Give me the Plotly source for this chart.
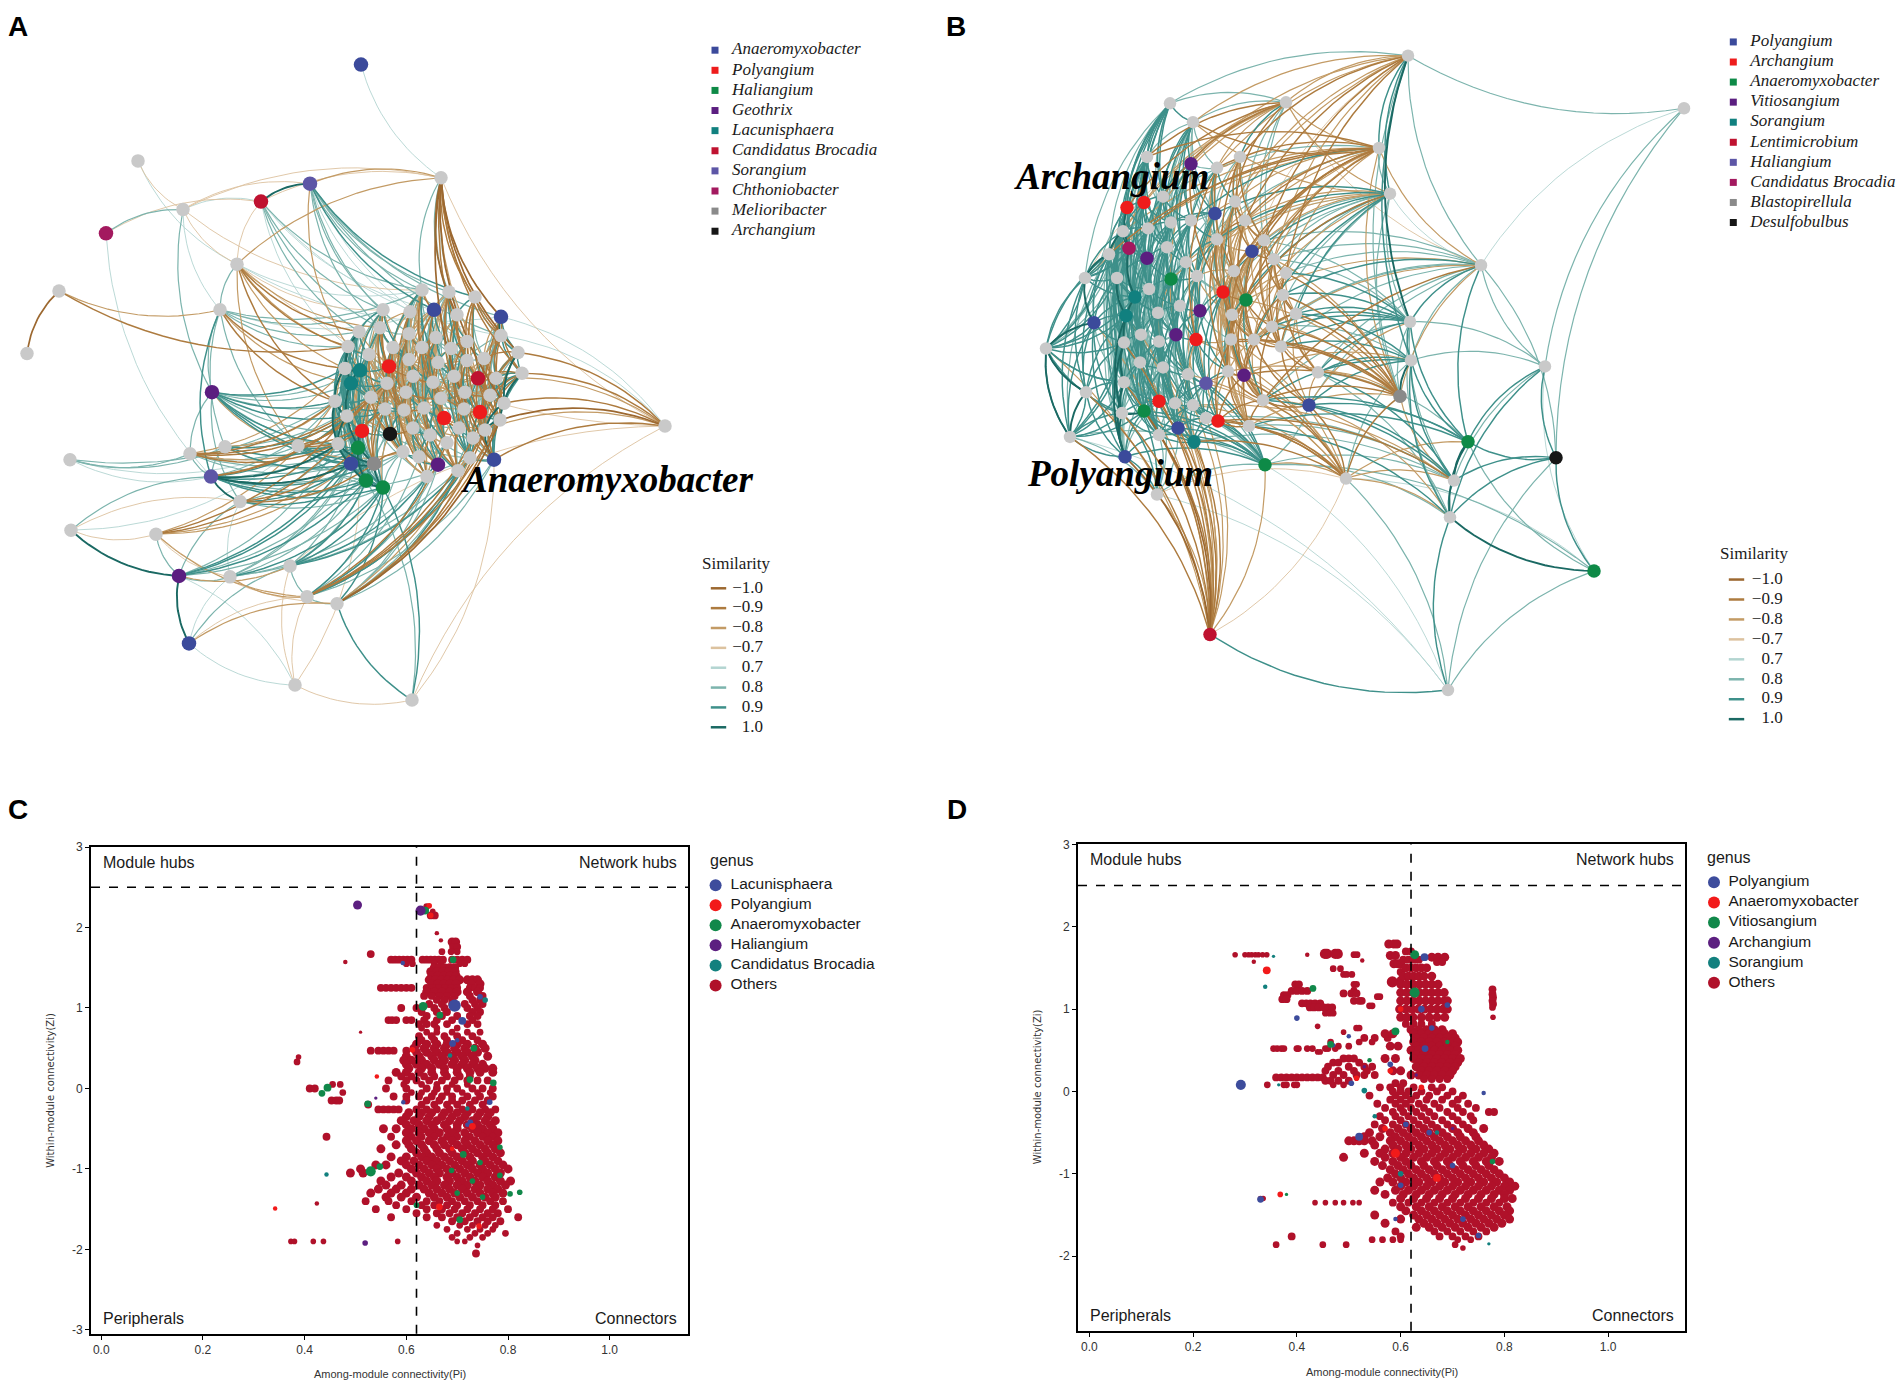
import plotly.graph_objects as go

W, H = 1902, 1390


def px(v):
    return v / W


def py(v):
    return 1 - v / H


# ---------------- shared styling ----------------
PAL = ["#3B4A9B", "#EE1C1C", "#0E8A47", "#5B1E80", "#11807F",
       "#BF1230", "#5D56A6", "#A3195F", "#8A8A8A", "#161616"]
NODE_OTHER = "#C9C9C9"

SIM_KEYS = [-10, -9, -8, -7, 7, 8, 9, 10]
SIM_LABELS = ["\u22121.0", "\u22120.9", "\u22120.8", "\u22120.7", "0.7", "0.8", "0.9", "1.0"]
SIM_COLORS = ["#9C6830", "#AD7B3F", "#C39B65", "#DCC29F", "#B3D5D1", "#7CB4AD", "#3E908A", "#1A6963"]
SIM_WIDTHS = [1.7, 1.45, 1.2, 0.9, 0.9, 1.2, 1.45, 1.9]

# ---------------- Panel A : network ----------------
A_GENERA = ["Anaeromyxobacter", "Polyangium", "Haliangium", "Geothrix", "Lacunisphaera",
            "Candidatus Brocadia", "Sorangium", "Chthoniobacter", "Melioribacter", "Archangium"]
# layout coordinates (x, y, genus index; -1 = other genus)
A_PERIPH = [
    (361, 58, 0), (138, 155, -1), (441, 172, -1), (310, 178, 6), (261, 196, 5), (183, 204, -1), (106, 228, 7),
    (237, 259, -1), (59, 286, -1), (27, 349, -1), (220, 305, -1), (212, 388, 3), (665, 422, -1), (70, 456, -1),
    (190, 450, -1), (225, 443, -1), (298, 442, -1), (211, 473, 6), (240, 498, -1), (71, 527, -1), (156, 531, -1),
    (179, 573, 3), (230, 574, -1), (290, 563, -1), (307, 594, -1), (337, 601, -1), (189, 641, 0), (295, 683, -1),
    (412, 698, -1)]
A_CORE = [
    (422, 285, -1), (449, 287, -1), (475, 292, -1), (383, 305, -1), (410, 307, -1), (434, 305, 0), (457, 310, -1), (501, 312, 0),
    (359, 327, -1), (380, 323, -1), (409, 329, -1), (436, 333, -1), (467, 337, -1), (501, 331, -1), (348, 342, -1), (369, 350, -1),
    (393, 343, -1), (422, 343, -1), (451, 344, -1), (518, 348, -1), (345, 364, -1), (360, 366, 4), (389, 362, 1), (409, 355, -1),
    (438, 358, -1), (467, 356, -1), (484, 354, -1), (522, 369, -1), (351, 379, 4), (387, 379, -1), (413, 372, -1), (433, 378, -1),
    (454, 372, -1), (478, 374, 5), (496, 374, -1), (335, 397, -1), (371, 393, -1), (406, 388, -1), (441, 394, -1), (465, 388, -1),
    (490, 391, -1), (504, 399, -1), (347, 412, -1), (385, 405, -1), (404, 406, -1), (424, 404, -1), (464, 405, -1), (480, 408, 1),
    (500, 416, -1), (444, 414, 1), (362, 427, 1), (390, 430, 9), (413, 424, -1), (430, 431, -1), (459, 424, -1), (485, 426, -1),
    (338, 440, -1), (358, 444, 2), (403, 448, -1), (419, 453, -1), (447, 439, -1), (473, 434, -1), (470, 454, -1), (351, 460, 0),
    (374, 460, 8), (438, 461, 3), (458, 467, -1), (494, 456, 0), (427, 473, -1), (366, 477, 2), (383, 484, 2)]
# adjacency: "source target:similarity*10 ..."
A_EDGES = [
    "p0 p2:7",
    "p1 p5:-7 p7:7",
    "p2 p5:-7 p4:-7 p3:-8 p7:-8 p12:-7 c2:-9 c6:-10 c7:-10 c13:-9 c19:-10 c27:-9 c34:-8 c41:-10 c48:-9 c67:-10 c0:8 c1:8 c12:7 c26:7",
    "p3 p4:10 p5:-7 c0:8 c3:8 c5:9 c9:8 c10:8 c4:7 c13:8 c7:8 c2:9 c1:8 c14:-8 c12:7",
    "p4 p5:7 p6:-7 p7:-7 c3:8 c8:8 c14:7 c9:8 c0:8 c5:7 c13:7",
    "p5 p6:8 p11:8 p10:7 p7:-7 c0:-7",
    "p6 p17:7",
    "p7 p10:8 p12:-7 p16:-8 c8:-9 c14:-9 c20:-8 c35:-9 c15:-8 c3:-7 c9:-8 c7:7 c0:7",
    "p8 p9:-10 p10:-8 c14:-9",
    "p10 p11:8 p17:9 p16:8 p15:8 c14:8 c20:-9 c35:-9 c28:-8 c8:8 c3:8 c0:8 c5:7",
    "p11 p14:8 p18:8 p16:-8 c35:9 c42:9 c56:9 c63:9 c64:9 c57:8 c20:9 c28:8 c50:8 c21:8 c36:8",
    "p12 p23:-7 p28:-7 c19:-9 c27:-9 c41:-9 c48:-10 c67:-9 c13:7 c7:7 c55:-8 c34:-8",
    "p13 p14:8 p15:8 p16:7 p17:7 c35:8",
    "p14 p16:8 p17:8 c35:-9 c42:-9 c56:-9 c20:-8 c57:8 c63:8 c50:-8 c36:-9",
    "p15 p17:8 c42:9 c56:9 c63:9 c35:-8 c29:8 c64:8",
    "p16 c56:9 c63:9 c57:9 c42:8 c64:8 c69:8 c70:8 c50:-9 c36:-9 c43:-9 c29:-8 c58:-8",
    "p17 p18:10 p19:8 c56:10 c63:10 c69:9 c70:9 c57:9 c64:9 c42:9 c35:8 c50:8 c58:8 c62:8 c36:-9 c29:-9",
    "p18 p19:-7 p22:7 p21:8 c63:9 c69:9 c70:8 c57:-9 c64:-9 c56:8 c58:8",
    "p19 p21:10 p20:-7 p16:7",
    "p20 p21:8 p24:-8 p22:-7 p25:-7 c56:-9 c42:-9 c35:-8 c63:-8 c57:-8",
    "p21 p26:10 p22:8 p23:-8 c63:9 c69:9 c57:9 c70:8 c64:8 c56:8",
    "p22 p24:-8 p26:7 c69:8 c70:9 c63:8 c68:8 c62:8 c57:8",
    "p23 p26:8 p24:8 p27:-7 c69:9 c70:9 c68:9 c66:9 c62:8 c57:8 c64:8",
    "p24 p26:-7 p25:8 p27:-7 c62:9 c66:9 c68:9 c70:9 c67:8 c65:8 c59:8 c58:8 c60:-9 c61:-9 c55:-9 c48:-9",
    "p25 p26:-8 p28:9 c66:9 c70:9 c68:8 c67:8 c65:8 c61:8 c62:-8 c55:-9 c48:-10 c41:-9 c34:-8",
    "p26 p27:7",
    "p27 p28:-7 p21:7 c57:-7",
    "p28 c69:8 c70:9 c67:-7",
    "c0 c10:8 c17:-8 c24:9 c31:-9 c45:8 c53:-8 c62:9 c12:-8 c4:9 c5:-9 c11:8 c16:-8 c22:9 c30:-8",
    "c1 c11:8 c18:-9 c32:8 c46:-9 c54:8 c60:-8 c25:9 c5:8 c6:-9 c12:9 c24:-8 c39:8",
    "c2 c12:-9 c26:8 c39:-8 c48:9 c55:-9 c19:8 c33:-8 c6:9 c13:-9 c40:-9",
    "c3 c15:8 c23:9 c36:-8 c43:8 c52:-9 c58:8 c29:-8 c8:9 c9:9 c14:8 c21:9 c28:8 c42:-8",
    "c4 c16:-8 c30:9 c44:-9 c53:8 c59:-8 c37:8 c9:-8 c10:9 c17:8 c23:-9 c45:8",
    "c5 c11:9 c24:-8 c38:9 c49:-9 c60:8 c17:-8 c65:8 c10:-8 c18:9 c31:8 c52:-9",
    "c6 c18:8 c25:-9 c39:8 c46:-8 c61:9 c32:-9 c12:-8 c33:-9 c47:8",
    "c7 c13:10 c19:9 c27:-9 c34:8 c41:-9 c48:8 c67:-9 c26:-8 c55:8",
    "c8 c14:9 c20:10 c28:9 c35:8 c42:9 c21:9 c56:-8 c29:-8 c15:9 c36:8 c50:9 c63:-8",
    "c9 c15:8 c22:9 c29:-9 c36:8 c43:-8 c50:9 c57:-8 c16:8 c10:8 c23:9 c37:-9 c51:8",
    "c10 c23:-8 c30:8 c37:-9 c44:8 c52:-8 c58:9 c17:9 c24:-9 c45:8 c59:-8",
    "c11 c24:8 c31:-8 c38:8 c45:-9 c53:8 c66:-8 c17:-9 c18:8 c32:9 c49:-8 c65:9",
    "c12 c25:8 c32:-9 c39:9 c46:-8 c54:9 c61:-9 c18:-9 c26:9 c40:-8",
    "c13 c19:9 c26:-8 c34:9 c40:-9 c47:8 c55:-9 c67:8 c27:9 c41:-9 c54:8",
    "c14 c20:9 c28:10 c35:9 c42:8 c50:9 c56:9 c21:9 c15:9 c36:9 c69:9",
    "c15 c22:8 c29:-8 c36:9 c43:-9 c51:8 c57:-8 c21:9 c37:-8 c50:9 c64:8",
    "c16 c23:9 c30:-8 c37:8 c44:-9 c52:8 c59:-8 c22:-9 c29:9 c45:-8 c58:8 c68:-9",
    "c17 c24:-8 c31:8 c38:-9 c45:8 c53:-9 c60:8 c23:8 c49:9",
    "c18 c25:-9 c32:8 c39:-8 c46:9 c54:-8 c62:9 c24:9",
    "c19 c26:-9 c27:9 c34:-8 c41:10 c48:-9 c55:8 c67:9 c40:-9 c47:9 c61:-8",
    "c20 c28:9 c35:10 c42:9 c50:8 c57:9 c63:9 c21:10 c36:9 c43:8 c64:9 c70:8",
    "c21 c28:10 c36:9 c43:8 c51:-8 c57:9 c64:8 c22:9 c29:9 c42:9",
    "c22 c29:-8 c37:8 c44:-9 c52:8 c58:-9 c65:8 c30:-9 c36:8 c51:9 c59:-8",
    "c23 c30:8 c38:-8 c45:9 c53:-8 c59:8 c24:-8 c31:9 c44:-8",
    "c24 c31:-9 c39:8 c46:-9 c54:8 c60:-8 c32:9 c38:-9 c66:-8",
    "c25 c33:9 c40:-8 c47:9 c55:-9 c61:8 c32:-8 c39:9 c46:-9 c62:8",
    "c26 c34:-9 c41:8 c48:-9 c55:8 c62:-8 c33:9 c40:-9",
    "c27 c34:9 c41:9 c48:10 c55:-9 c67:9 c33:-9 c40:9 c47:-9 c61:9",
    "c28 c35:9 c42:10 c50:9 c56:9 c63:8 c36:9 c29:9 c69:9",
    "c29 c37:-8 c43:9 c51:-9 c58:8 c64:-9 c30:8 c36:9 c44:-9 c52:8 c65:-8",
    "c30 c38:8 c44:-9 c52:8 c59:-8 c65:9 c31:-9 c37:9 c45:-8 c60:9",
    "c31 c39:-8 c45:9 c53:-8 c60:9 c66:-8 c32:8 c38:9 c46:-9 c59:8",
    "c32 c40:8 c46:-9 c54:8 c61:-9 c62:8 c39:-9 c47:9",
    "c33 c41:-9 c47:8 c55:-8 c62:9 c67:-9 c34:-9 c40:9 c48:-9 c54:8",
    "c34 c41:9 c48:-9 c55:9 c67:-8",
    "c35 c42:10 c50:9 c56:10 c57:9 c63:9 c69:8 c36:9 c43:9 c64:8",
    "c36 c43:8 c51:-9 c57:8 c64:-9 c70:8 c37:8 c44:9 c58:-8 c69:9",
    "c37 c44:8 c52:-9 c58:9 c65:-8 c68:8 c38:-9 c45:9 c53:-8 c66:8",
    "c38 c45:-8 c53:9 c60:-9 c66:8 c39:9 c49:-9 c62:-8",
    "c39 c46:8 c54:-9 c61:8 c67:-9 c40:-9 c47:9 c55:-8",
    "c40 c47:9 c55:-8 c62:9 c48:8 c41:9 c67:8",
    "c41 c48:9 c55:10 c67:9",
    "c42 c50:9 c56:10 c57:9 c63:9 c69:8 c43:9 c64:10 c70:9",
    "c43 c51:-8 c58:9 c64:-9 c70:9 c44:9 c50:9 c69:8",
    "c44 c52:8 c59:-8 c65:9 c68:-8 c45:-9 c51:9",
    "c45 c53:-9 c60:8 c66:-9 c49:9 c52:-9",
    "c46 c54:8 c61:-8 c62:9 c47:-9 c66:-9",
    "c47 c55:9 c62:-8 c67:9 c48:9 c61:-8",
    "c48 c55:10 c67:9 c62:-9",
    "c49 c53:-8 c60:9 c66:-8 c59:8 c54:-9",
    "c50 c57:10 c63:9 c69:9 c70:8 c51:9 c64:9 c56:9",
    "c51 c58:-9 c64:8 c70:-8 c52:-9",
    "c52 c59:9 c65:-9 c68:8 c53:9",
    "c53 c60:-8 c66:9 c68:-9 c59:9 c65:-8",
    "c54 c61:9 c62:-8 c67:8 c66:-9",
    "c55 c62:9 c67:10 c61:-9",
    "c56 c63:10 c57:9 c69:9 c64:10 c70:9",
    "c57 c63:9 c69:10 c70:9",
    "c58 c64:-9 c70:8 c65:9 c59:9 c68:-8",
    "c59 c65:-8 c68:9",
    "c60 c66:-9 c68:8 c65:9",
    "c61 c66:8 c67:-9",
    "c62 c66:-8 c67:9",
    "c63 c64:10 c69:10 c70:9",
    "c64 c69:9 c70:10",
    "c65 c68:9",
    "c69 c70:10",
    "c0 c29:8 c38:-8 c52:8 c66:-8",
    "c1 c23:-8 c37:8 c53:-8 c68:8",
    "c3 c31:-8 c44:8 c59:-8",
    "c4 c25:8 c38:-8 c60:8",
    "c5 c29:-8 c43:8 c58:-8",
    "c6 c24:8 c45:-8 c59:8",
    "c8 c30:-8 c44:8 c63:8",
    "c9 c31:8 c46:-8 c64:-8",
    "c10 c33:-8 c46:8 c57:-8",
    "c11 c36:8 c51:-8 c67:8",
    "c12 c37:-8 c53:8 c68:-8",
    "c13 c32:8 c46:-8 c62:8",
    "c14 c30:8 c44:-8 c58:8",
    "c15 c31:-8 c45:8 c65:-8",
    "c16 c32:8 c47:-8 c66:8",
    "c17 c33:-8 c48:8 c64:-8",
    "c20 c37:8 c52:-8 c68:8",
    "c21 c38:-8 c53:8 c69:-8",
    "c22 c39:8 c54:-8 c70:8",
    "c23 c40:-8 c55:8 c63:-8",
    "c24 c41:8 c56:-8",
    "c25 c42:-8 c58:8",
    "c26 c43:8 c59:-8",
    "c27 c44:-8 c60:8",
    "c28 c45:8 c61:-8",
    "c29 c46:-8 c62:8",
    "c30 c47:8 c63:-8",
    "c31 c48:-8 c64:8",
    "c32 c50:8 c65:-8",
    "c33 c51:-8 c66:8",
    "c34 c52:8 c68:-8",
    "c35 c53:-8 c67:8",
    "c36 c54:8 c68:-8",
    "c37 c55:-8 c70:8",
]

# ---------------- Panel B : network ----------------
B_GENERA = ["Polyangium", "Archangium", "Anaeromyxobacter", "Vitiosangium", "Sorangium",
            "Lentimicrobium", "Haliangium", "Candidatus Brocadia", "Blastopirellula", "Desulfobulbus"]
B_PERIPH = [
    (1408, 49, -1), (1684, 102, -1), (1379, 142, -1), (1390, 188, -1), (1481, 260, -1), (1410, 317, -1), (1411, 356, -1),
    (1545, 362, -1), (1400, 392, 8), (1468, 438, 2), (1556, 454, 9), (1454, 477, -1), (1450, 514, -1), (1594, 568, 2),
    (1210, 632, 5), (1448, 688, -1), (1346, 475, -1), (1265, 461, 2), (1157, 491, -1), (1286, 96, -1), (1170, 97, -1),
    (1193, 116, -1)]
B_CORE = [
    (1147, 151, -1), (1191, 158, 3), (1217, 162, -1), (1240, 151, -1), (1163, 191, -1), (1144, 197, 1), (1127, 202, 1), (1235, 196, -1),
    (1215, 208, 0), (1245, 215, -1), (1191, 215, -1), (1171, 217, -1), (1148, 223, -1), (1123, 226, -1), (1217, 234, -1), (1264, 235, -1),
    (1167, 242, -1), (1129, 243, 7), (1147, 253, 3), (1252, 246, 0), (1274, 254, -1), (1109, 249, -1), (1186, 257, -1), (1234, 266, -1),
    (1286, 268, -1), (1085, 273, -1), (1117, 273, -1), (1171, 274, 2), (1197, 271, -1), (1149, 284, -1), (1223, 287, 1), (1246, 295, 2),
    (1283, 290, -1), (1135, 292, 4), (1180, 301, -1), (1200, 306, 3), (1232, 310, -1), (1296, 309, -1), (1126, 311, 4), (1158, 308, -1),
    (1094, 318, 0), (1272, 322, -1), (1141, 330, -1), (1176, 330, 3), (1196, 335, 1), (1231, 335, -1), (1254, 335, -1), (1046, 344, -1),
    (1124, 338, -1), (1159, 337, -1), (1281, 342, -1), (1140, 358, -1), (1163, 363, -1), (1188, 370, -1), (1228, 367, -1), (1244, 371, 3),
    (1318, 368, -1), (1124, 378, -1), (1206, 379, 6), (1086, 388, -1), (1159, 397, 1), (1175, 399, -1), (1193, 401, -1), (1263, 396, -1),
    (1309, 401, 0), (1122, 409, -1), (1144, 407, 2), (1206, 414, -1), (1218, 417, 1), (1249, 422, -1), (1178, 424, 0), (1159, 431, -1),
    (1070, 433, -1), (1194, 438, 4), (1125, 453, 0)]
B_EDGES = [
    "p0 p1:8 p20:8 p19:-8 p21:-8 p2:9 p3:9 p4:8 p5:10 p6:9 p8:8 c1:-8 c3:-9 c7:-8 c9:-9 c14:-8 c15:-9 c20:-8 c24:-9 c2:-8 c19:-7",
    "p1 p7:8 p4:7 p10:8",
    "p19 p20:8 p21:8 p2:-8 p3:-8 p4:-7 c0:-9 c1:-8 c4:-9 c2:-8 c7:-9 c12:-8 c13:-8 c6:-9 c21:-8 c25:-7 c3:9 c9:8 c15:8 c20:8",
    "p20 p21:9 c0:9 c4:9 c5:9 c6:9 c12:9 c13:9 c17:9 c21:8 c25:8 c11:9 c16:8 c18:9 c26:9",
    "p21 p2:-9 p3:-8 c1:9 c4:9 c10:9 c11:8 c16:9 c22:9 c27:8 c8:8 c14:8 c2:8 c0:8 c29:9 c34:8",
    "p2 p4:-8 p8:-8 p3:8 c0:-9 c2:-9 c7:-8 c9:-9 c14:-8 c15:-9 c20:-8 c23:-9 c19:-9 c24:-8 c30:-8 c31:-9 c36:-8 c13:-8 c12:-9 c21:-9 c25:-8 c28:-8 c4:8 c10:9 c22:8",
    "p3 p4:7 p8:8 p5:8 c8:9 c14:9 c19:8 c23:9 c24:8 c30:8 c36:9 c41:8 c46:9 c50:8 c20:8 c37:9 c9:-8 c15:-8 c31:-9 c45:-8 c27:-8 c22:-8 c33:7",
    "p4 p5:9 p6:8 p7:8 p9:9 p8:-8 c15:8 c20:8 c24:8 c32:9 c37:8 c41:8 c50:8 c56:8 c64:8 c46:-8 c63:-9 c31:-8",
    "p5 p6:9 p8:8 p9:9 p11:8 p12:8 c24:9 c32:9 c37:9 c41:9 c50:9 c56:9 c63:8 c46:9 c20:8 c15:8 c64:-8",
    "p6 p8:10 p9:9 p11:9 p12:9 p16:8 c37:9 c50:9 c56:9 c63:9 c64:9 c41:8 c55:-8",
    "p7 p9:9 p10:9 p11:8 p12:9 p5:8 p6:8 p13:7",
    "p8 p16:-9 p11:-8 c24:-9 c32:-9 c37:-9 c41:-9 c46:-9 c50:-9 c56:-8 c63:-9 c54:-8 c36:-8 c45:-9 c55:-9 c69:-8 c31:-8 c20:-8",
    "p9 p10:9 p11:10 p12:10 p16:-8 p13:8 c63:9 c64:9 c56:8 c69:9",
    "p10 p12:9 p13:9 p11:9 p15:8 p4:8",
    "p11 p12:9 p16:-8 p17:8 c56:9 c64:9 c63:9 c69:8 c73:8 c67:8 c62:-8 c68:-9",
    "p12 p13:10 p15:9 p16:-8 p17:8 c64:-8 c56:8 c69:9",
    "p13 p15:8 p17:8 p16:7",
    "p14 p15:9 p18:-8 p17:-8 p16:-7 c74:-10 c57:-9 c65:-9 c71:-9 c72:-9 c66:-10 c60:-9 c48:-9 c59:-9 c47:-8 c70:-9 c73:-9 c61:-8 c62:-8 c67:-8 c51:-8 c52:-8 c42:-8 c38:-8 c40:-8",
    "p15 p17:7 p16:8 p18:7 c72:7",
    "p16 p17:-8 p18:-7 c64:-9 c63:-9 c69:-9 c68:-9 c67:-9 c73:-9 c62:-8 c58:-8 c55:-8 c54:-9 c45:-8 c44:-8 c53:-8",
    "p17 p18:8 c74:9 c73:9 c70:9 c71:9 c66:9 c65:9 c67:9 c62:9 c61:8 c68:9 c60:8 c57:8 c72:8 c64:8 c58:9 c52:8 c53:9",
    "p18 c74:9 c71:8 c70:8 c65:9 c57:9 c72:8 c60:8",
    "c47 c25:9 c40:9 c59:9 c72:9 c21:9 c26:9 c33:9 c38:9 c48:9 c57:9 c13:8 c6:8 c17:8",
    "c72 c57:9 c65:9 c74:9 c48:9 c38:9 c59:9 c66:9",
    "c25 c13:9 c6:9 c12:9 c17:9 c26:9",
    "c0 c5:9 c12:9 c18:8 c29:9 c38:8 c48:9 c57:9 c13:8 c4:9 c6:9 c11:8 c16:9 c17:9 c26:8",
    "c1 c8:9 c14:8 c22:9 c30:-9 c43:9 c53:8 c62:-8 c4:9 c10:9 c11:9 c16:8 c2:8",
    "c2 c7:9 c14:-8 c23:-9 c31:8 c44:-9 c54:8 c8:9 c10:8 c3:-8 c22:9",
    "c3 c9:-8 c15:-9 c24:8 c36:-9 c46:8 c19:-8 c7:-9 c8:8 c14:-8",
    "c4 c11:9 c16:9 c27:8 c39:9 c49:8 c61:9 c5:9 c10:9 c12:9 c22:8",
    "c5 c12:9 c17:9 c29:8 c42:9 c51:8 c60:9 c6:9 c11:9 c13:9 c16:9 c18:9",
    "c6 c13:9 c21:9 c26:9 c33:9 c40:8 c48:9 c12:9 c17:10 c18:9",
    "c7 c14:8 c19:-9 c30:8 c45:-8 c55:9 c8:-8 c9:-9 c15:-8 c23:-9",
    "c8 c10:9 c22:8 c35:9 c44:-8 c58:9 c68:-8 c11:9 c14:9 c16:8 c28:9",
    "c9 c15:-9 c20:-8 c31:-9 c46:8 c63:-8 c23:-8 c14:-9 c19:-8",
    "c10 c16:9 c28:9 c34:8 c43:9 c52:9 c62:8 c11:9 c14:9 c27:9 c35:8",
    "c11 c22:9 c29:9 c39:8 c49:9 c61:8 c70:9 c12:9 c16:9 c18:9 c27:9",
    "c12 c18:9 c26:8 c33:9 c42:9 c51:9 c66:8 c13:9 c16:9 c17:9 c29:9",
    "c13 c21:10 c25:9 c38:9 c48:9 c57:8 c65:9 c17:10 c18:9 c26:9 c33:9",
    "c14 c23:-8 c30:9 c36:-9 c45:8 c54:-9 c22:9 c28:9 c35:9 c19:-8",
    "c15 c20:-9 c24:-8 c32:-9 c41:-9 c50:-8 c19:-9 c23:-9 c31:-9",
    "c16 c27:9 c34:9 c43:9 c52:8 c61:9 c71:8 c18:9 c22:9 c29:9 c39:9",
    "c17 c26:9 c33:10 c42:9 c57:9 c66:9 c74:8 c18:9 c21:9 c29:9 c38:9",
    "c18 c29:9 c39:9 c49:8 c60:9 c71:9 c26:9 c27:9 c33:9 c42:9",
    "c19 c23:-9 c31:8 c41:-8 c46:-9 c55:-8 c63:9 c20:-9 c30:-8 c36:-9",
    "c20 c24:-9 c32:-8 c37:-9 c50:-9 c56:-8 c31:-9 c41:-8",
    "c21 c25:10 c26:9 c38:9 c47:9 c59:9 c72:8 c33:9 c40:9 c48:9 c17:9",
    "c22 c28:9 c35:8 c44:9 c53:9 c62:8 c27:9 c34:9 c30:8 c43:9",
    "c23 c30:-8 c36:9 c45:-9 c54:8 c69:-8 c28:-8 c31:-9 c35:8",
    "c24 c32:-9 c37:-8 c41:-8 c50:-9 c31:-8 c46:-8",
    "c25 c33:9 c40:10 c47:9 c59:9 c72:9",
    "c26 c33:9 c38:10 c48:9 c57:9 c65:8 c29:9 c39:9 c42:9 c40:9",
    "c27 c34:9 c39:9 c49:9 c52:-8 c61:9 c28:9 c29:9 c43:9 c44:8",
    "c28 c35:9 c43:8 c53:9 c62:9 c67:-8 c30:8 c34:9 c44:9 c36:-8",
    "c29 c39:9 c42:9 c51:9 c60:9 c71:9 c33:9 c34:9 c43:9 c49:9",
    "c30 c36:-9 c44:9 c54:-8 c68:9 c35:9 c31:-9 c45:-8 c58:9",
    "c31 c36:-8 c45:-9 c46:-9 c55:-9 c69:-8 c41:-9 c50:-8 c54:-9",
    "c32 c37:-9 c41:-8 c50:-8 c56:-9 c46:-9",
    "c33 c38:9 c40:9 c48:10 c57:9 c66:9 c39:9 c42:9 c51:9",
    "c34 c43:9 c52:9 c61:8 c70:9 c35:9 c39:9 c44:9 c53:9",
    "c35 c44:9 c53:8 c58:9 c67:8 c43:9 c45:8 c54:9",
    "c36 c45:-8 c54:9 c63:-9 c69:-8 c46:-9 c55:-9 c50:-8",
    "c37 c41:-9 c50:-9 c56:-8 c64:-8 c46:-8",
    "c38 c40:9 c48:9 c57:9 c65:10 c74:9 c42:9 c51:9 c59:9",
    "c39 c49:9 c52:8 c61:9 c71:9 c42:9 c43:9 c51:9 c53:9",
    "c40 c47:10 c59:9 c72:9 c57:8 c74:9 c48:9 c65:9",
    "c41 c46:-8 c50:-9 c63:-9 c55:-9 c54:-8 c56:-8",
    "c42 c51:9 c60:9 c66:9 c71:8 c48:9 c52:9 c57:9",
    "c43 c52:9 c61:9 c70:8 c58:8 c44:9 c53:9 c60:9 c62:9",
    "c44 c53:9 c58:9 c67:9 c62:-8 c54:9 c45:-8",
    "c45 c54:-9 c55:-8 c63:-8 c68:-9 c46:-9 c69:-8 c58:-8",
    "c46 c55:-9 c63:-8 c64:-9 c50:-9 c69:-9",
    "c47 c59:10 c72:10 c57:9 c65:9",
    "c48 c57:10 c65:9 c74:10 c66:8 c51:9 c59:9",
    "c49 c52:9 c61:9 c71:9 c60:8 c51:9 c53:9 c62:9 c66:9",
    "c50 c56:-9 c64:-9",
    "c51 c60:9 c66:9 c71:9 c74:8 c52:9 c57:9 c65:9",
    "c52 c61:9 c70:9 c62:8 c53:9 c60:9 c66:9",
    "c53 c58:9 c62:9 c67:9 c61:9 c70:9 c73:9",
    "c54 c63:-9 c68:-8 c69:-9 c55:-9 c58:9 c67:9",
    "c55 c63:-9 c69:-8 c64:-8 c58:-8 c68:-9",
    "c56 c64:-8",
    "c57 c65:10 c74:10 c66:9 c59:9 c60:9 c71:9",
    "c58 c67:9 c62:8 c73:8 c61:9 c68:9 c70:9",
    "c59 c65:9 c72:10 c74:9",
    "c60 c66:9 c71:9 c74:8 c61:9 c65:9 c70:9",
    "c61 c70:9 c71:8 c62:9 c67:9 c73:9",
    "c62 c67:9 c73:9 c70:8 c68:9 c71:9",
    "c63 c69:-9 c64:-9 c68:-9",
    "c65 c74:10 c72:9 c66:10 c71:9",
    "c66 c74:9 c71:9 c70:9 c73:9",
    "c67 c68:9 c73:9 c70:9 c71:8",
    "c68 c73:9 c69:-9",
    "c70 c73:9 c71:9",
    "c71 c74:9 c73:9",
    "c0 c33:8 c39:8 c49:8 c51:8 c60:8",
    "c1 c12:8 c29:8 c34:8 c52:8 c70:8",
    "c4 c33:8 c42:8 c53:8 c71:8",
    "c5 c38:8 c48:8 c57:8 c65:8",
    "c6 c29:8 c42:8 c51:8 c74:8",
    "c10 c39:8 c49:8 c60:8 c73:8",
    "c11 c33:8 c43:8 c52:8 c66:8",
    "c12 c38:8 c49:8 c61:8 c71:8",
    "c13 c42:8 c51:8 c60:8 c66:8",
    "c16 c33:8 c48:8 c53:8 c70:8",
    "c17 c39:8 c52:8 c65:8 c71:8",
    "c18 c34:8 c43:8 c61:8 c74:8",
    "c21 c42:8 c51:8 c57:8 c66:8",
    "c22 c39:8 c49:8 c58:8 c73:8",
    "c26 c43:8 c52:8 c60:8 c71:8",
    "c27 c42:8 c51:8 c62:8 c74:8",
    "c29 c48:8 c57:8 c65:8 c70:8",
    "c33 c49:8 c52:8 c61:8 c71:8",
    "c34 c48:8 c51:8 c60:8 c73:8",
    "c38 c49:8 c52:8 c60:8 c66:8",
    "c39 c48:8 c57:8 c62:8 c70:8",
    "c42 c53:8 c61:8 c65:8 c74:8",
    "c43 c51:8 c57:8 c66:8 c71:8",
    "c49 c57:8 c65:8 c70:8 c73:8",
    "c51 c61:8 c62:8 c73:8",
    "c52 c57:8 c65:8 c74:8",
    "c2 c36:-8 c45:-8 c55:-8",
    "c7 c31:-8 c36:-8 c46:-8 c54:-8",
    "c9 c30:-8 c45:-8 c55:-8",
    "c14 c31:-8 c46:-8 c63:-8",
    "c15 c36:-8 c45:-8 c54:-8",
    "c19 c45:-8 c54:-8 c68:-8",
    "c23 c46:-8 c55:-8 c63:-8",
    "c30 c46:-8 c63:-8 c69:-8",
]

# ---------------- Panel C : Zi-Pi scatter ----------------
C_GENERA = ["Lacunisphaera", "Polyangium", "Anaeromyxobacter", "Haliangium", "Candidatus Brocadia", "Others"]
# rows of "Others": (Zi, [Pi values], marker size)
C_OTHERS = [
    (2.26, [.64], 6), (2.15, [.648, .656], 7), (2.20, [.652], 5), (1.93, [.66], 4), (1.84, [.668], 4),
    (1.82, [.69, .697], 8), (1.76, [.692, .70], 7), (1.70, [.67, .688, .70], 6), (1.67, [.53], 7), (1.57, [.48], 4),
    (1.60, [.57, .578, .586, .594, .602, .61, .632, .64, .648, .656, .664, .672, .69, .70, .71, .72], 7),
    (1.55, [.60, .612, .655, .668, .705, .715], 6),
    (1.50, [.655, .665, .675, .685, .695], 8),
    (1.45, [.648, .66, .672, .684, .696], 8),
    (1.40, [.65, .662, .674, .686, .698], 8),
    (1.35, [.645, .657, .669, .681, .693, .705, .72, .73, .74], 8),
    (1.30, [.65, .662, .674, .686, .698, .728, .745], 8),
    (1.25, [.55, .56, .57, .58, .59, .60, .61, .64, .652, .664, .676, .688, .70, .725, .735, .745], 7),
    (1.20, [.64, .655, .67, .685, .70, .72, .74], 8),
    (1.15, [.635, .65, .665, .68, .695, .725, .75], 7),
    (1.10, [.66, .675, .69, .73, .745], 7),
    (1.05, [.645, .67, .69, .715, .735, .75], 7),
    (1.00, [.59, .62, .655, .675, .72, .74], 7),
    (0.95, [.63, .66, .68, .73, .745], 7),
    (0.90, [.64, .67, .70, .725, .74], 7),
    (0.85, [.565, .572, .58, .60, .61, .635, .66, .69, .73], 7),
    (0.80, [.625, .64, .655, .68, .72, .74], 7),
    (0.75, [.63, .66, .70], 6),
    (0.70, [.51], 3),
    (0.70, [.64, .66, .69, .72, .745], 6),
    (0.65, [.625, .65, .675, .70, .73], 7),
    (0.60, [.63, .655, .68, .71, .74], 7),
    (0.55, [.62, .64, .66, .68, .70, .72, .75], 8),
    (0.50, [.615, .635, .655, .675, .695, .715, .735, .755], 8),
    (0.47, [.53, .545, .555, .565, .575, .60], 7),
    (0.45, [.62, .64, .66, .68, .70, .72, .74], 8),
    (0.40, [.60, .625, .65, .67, .69, .71, .73, .76], 8),
    (0.35, [.595, .61, .63, .655, .675, .695, .715, .735], 8),
    (0.33, [.385], 6), (0.39, [.388], 5),
    (0.30, [.60, .62, .64, .665, .69, .71, .73, .75], 8),
    (0.25, [.605, .63, .65, .675, .70, .72, .74, .755, .77], 8),
    (0.20, [.58, .60, .625, .65, .675, .70, .725, .745, .77], 8),
    (0.15, [.59, .61, .635, .655, .68, .705, .725], 7),
    (0.10, [.565, .60, .62, .645, .67, .695, .72, .74, .76], 7),
    (0.05, [.455, .47, .595, .63, .66, .69, .72], 6),
    (0.00, [.41, .42, .56, .60, .64, .66, .68, .70, .73, .75, .77], 7),
    (-0.05, [.475, .61, .63, .655, .68, .71, .74, .765], 6),
    (-0.10, [.575, .60, .625, .65, .67, .69, .72, .745, .77], 7),
    (-0.15, [.453, .462, .468, .60, .64, .665, .69, .71, .735, .76], 7),
    (-0.20, [.525, .63, .655, .68, .70, .725, .75], 7),
    (-0.26, [.545, .555, .565, .575, .585, .62, .64, .66, .685, .71, .73, .755, .775], 7),
    (-0.30, [.605, .63, .65, .675, .70, .72, .745, .765], 8),
    (-0.35, [.60, .625, .645, .67, .69, .715, .74, .76], 8),
    (-0.40, [.59, .615, .64, .66, .685, .705, .73, .755, .775], 8),
    (-0.45, [.60, .625, .65, .675, .70, .72, .74, .765], 8),
    (-0.50, [.555, .58, .61, .635, .655, .68, .70, .73, .75, .77], 8),
    (-0.55, [.60, .625, .645, .665, .69, .715, .74, .76, .78], 8),
    (-0.60, [.443, .57, .61, .63, .655, .68, .70, .725, .75, .77], 7),
    (-0.65, [.60, .62, .645, .67, .69, .715, .735, .76, .78], 8),
    (-0.70, [.58, .605, .63, .655, .675, .70, .72, .745, .77], 8),
    (-0.75, [.55, .61, .635, .66, .685, .71, .73, .755, .775], 8),
    (-0.80, [.62, .64, .665, .69, .715, .74, .76, .785], 8),
    (-0.85, [.57, .60, .63, .65, .675, .70, .725, .75, .77], 8),
    (-0.90, [.59, .615, .64, .66, .685, .71, .73, .755, .78], 8),
    (-0.95, [.54, .56, .60, .625, .65, .67, .695, .72, .745, .765, .79], 8),
    (-1.00, [.51, .61, .635, .66, .68, .705, .73, .75, .775, .80], 8),
    (-1.05, [.49, .515, .585, .62, .645, .665, .69, .715, .74, .76, .785], 8),
    (-1.10, [.57, .60, .63, .655, .68, .70, .725, .75, .775], 8),
    (-1.15, [.55, .61, .64, .66, .685, .71, .735, .76, .785, .805], 8),
    (-1.20, [.56, .59, .625, .65, .675, .70, .72, .745, .77, .795], 8),
    (-1.25, [.545, .58, .61, .635, .66, .685, .71, .735, .76, .78], 8),
    (-1.30, [.53, .57, .60, .645, .67, .695, .72, .745, .77, .79], 8),
    (-1.35, [.56, .59, .62, .655, .68, .705, .73, .755, .775], 8),
    (-1.40, [.52, .565, .61, .64, .665, .69, .715, .74, .765, .79], 7),
    (-1.43, [.424], 4),
    (-1.45, [.58, .63, .655, .68, .70, .725, .75, .775], 7),
    (-1.50, [.54, .60, .64, .67, .695, .72, .745, .77, .80], 7),
    (-1.55, [.62, .66, .685, .71, .735, .76, .78], 7),
    (-1.60, [.57, .64, .67, .70, .725, .75, .77, .82], 7),
    (-1.65, [.69, .715, .74, .76, .785], 7),
    (-1.70, [.66, .705, .73, .755, .775], 6),
    (-1.75, [.68, .72, .745, .77], 6),
    (-1.80, [.70, .735, .76, .795], 6),
    (-1.85, [.69, .725, .75], 6),
    (-1.90, [.373, .38, .417, .437, .583, .70, .715], 5),
    (-1.95, [.74], 5),
    (-2.05, [.737], 7),
]
# highlighted genera: (Pi, Zi, size)
C_HIGHLIGHT = {
    "Lacunisphaera": [(.695, 1.03, 11), (.71, .84, 7), (.691, .56, 6), (.593, 1.56, 4), (.745, 1.14, 5),
                      (.764, -.17, 5), (.726, -.42, 5), (.594, -.17, 4), (.70, .60, 4), (.72, -.45, 4)],
    "Polyangium": [(.645, 2.27, 5), (.648, 2.15, 5), (.73, -.47, 6), (.665, -1.47, 6), (.743, -1.71, 5),
                   (.542, .15, 4), (.612, .48, 5), (.342, -1.49, 4), (.69, -.75, 4)],
    "Anaeromyxobacter": [(.637, 2.21, 7), (.692, 1.60, 6), (.633, 1.02, 8), (.666, .91, 6), (.445, .01, 7),
                         (.434, -.06, 6), (.524, -.19, 6), (.530, -1.03, 9), (.548, -.97, 6), (.733, .50, 6),
                         (.725, .11, 6), (.771, .07, 6), (.784, -.73, 5), (.712, -.82, 6), (.705, -1.63, 6),
                         (.804, -1.31, 5), (.823, -1.29, 5), (.689, -1.02, 5), (.620, -1.45, 5), (.745, -.92, 5),
                         (.784, -1.08, 5), (.73, -1.15, 5), (.75, -1.35, 5), (.70, -1.30, 5)],
    "Haliangium": [(.504, 2.28, 8), (.628, 2.21, 9), (.519, -1.92, 5), (.54, -.12, 3)],
    "Candidatus Brocadia": [(.443, -1.07, 4), (.755, 1.10, 5), (.686, .41, 4), (.72, -.25, 4)],
}

# ---------------- Panel D : Zi-Pi scatter ----------------
D_GENERA = ["Polyangium", "Anaeromyxobacter", "Vitiosangium", "Archangium", "Sorangium", "Others"]
D_OTHERS = [
    (1.66, [.281, .30, .307, .313, .32, .326, .334, .342], 5), (1.575, [.317], 4), (1.66, [.42], 4),
    (1.67, [.454, .458, .474, .479], 9), (1.66, [.51, .516], 6), (1.59, [.526], 4),
    (1.49, [.47, .484], 6), (1.42, [.49, .496, .506], 6), (1.30, [.51, .515], 6), (1.23, [.51], 6),
    (1.30, [.397, .404], 7), (1.22, [.39, .40, .41, .42], 7), (1.17, [.375, .382], 7), (1.12, [.372, .38], 7),
    (1.07, [.41, .418, .426, .435, .445], 7), (1.02, [.425, .433, .442, .452, .46, .468], 7),
    (0.95, [.455, .463, .47], 6), (0.79, [.44], 5),
    (1.19, [.49, .505, .515], 7), (1.10, [.51, .52, .525], 7), (1.04, [.54, .545], 6), (1.15, [.555, .56], 6),
    (1.79, [.577, .587, .593], 8), (1.65, [.58, .59], 8), (1.55, [.587, .595, .60], 8), (1.45, [.60], 7),
    (1.35, [.60], 7), (1.33, [.584], 10),
    (1.63, [.66, .672, .685], 8), (1.57, [.67, .68], 7),
    (1.70, [.61, .62], 7),
    (1.60, [.605, .615, .625, .635], 7),
    (1.50, [.61, .62, .63, .64, .65], 8),
    (1.40, [.605, .615, .625, .635, .645, .66], 8),
    (1.30, [.60, .612, .624, .636, .648, .66, .672], 8),
    (1.20, [.60, .612, .624, .636, .648, .66, .672, .684], 8),
    (1.10, [.60, .612, .624, .636, .648, .66, .672, .684, .69], 8),
    (1.00, [.598, .61, .622, .634, .646, .658, .67, .682, .69], 8),
    (0.90, [.60, .612, .624, .64, .655, .67, .685], 8),
    (0.82, [.61, .625, .64, .66], 7),
    (1.24, [.777], 7), (1.18, [.777], 7), (1.14, [.778], 7), (1.10, [.777], 7), (1.06, [.778], 7),
    (1.02, [.777], 6), (0.90, [.778], 5),
    (0.77, [.515, .52], 6), (0.72, [.49], 5), (0.65, [.53, .55, .575], 7), (0.60, [.465, .52, .545], 6),
    (0.55, [.48, .50], 6),
    (0.52, [.355, .362, .37, .375, .40, .403, .42, .43, .455, .46, .474], 6),
    (0.48, [.44, .445], 5), (0.40, [.49, .50, .51], 7), (0.35, [.47, .48, .52], 7),
    (0.30, [.46, .50, .53, .545], 7), (0.25, [.455, .48, .51, .535], 7), (0.20, [.47, .49, .515, .53, .55], 7),
    (0.17, [.36, .37, .38, .39, .40, .41, .42, .43, .44, .45], 7),
    (0.13, [.455, .465, .48, .50], 7), (0.08, [.343, .375, .38, .395, .40, .47, .49], 6),
    (0.75, [.62, .635, .65, .665, .68], 8),
    (0.70, [.57, .585, .625, .64, .655, .67, .685, .70], 8),
    (0.65, [.63, .645, .66, .675, .69, .705], 8),
    (0.60, [.625, .64, .655, .67, .685, .70, .71], 8),
    (0.55, [.58, .595, .63, .645, .66, .675, .69, .705], 8),
    (0.50, [.62, .635, .65, .665, .68, .695, .71], 8),
    (0.45, [.63, .645, .66, .675, .69, .705], 8),
    (0.40, [.57, .59, .625, .64, .655, .67, .685, .70, .715], 8),
    (0.35, [.635, .65, .665, .68, .695, .71], 8),
    (0.30, [.63, .645, .66, .675, .69, .705], 8),
    (0.25, [.585, .60, .64, .655, .67, .685, .70], 8),
    (0.20, [.62, .635, .65, .665, .68, .695], 8),
    (0.15, [.645, .66, .675, .69], 7),
    (0.10, [.59, .605], 7),
    (0.05, [.56, .58, .60, .625, .66, .68], 7),
    (0.00, [.585, .60, .615, .64, .67, .70], 7),
    (-0.05, [.54, .59, .61, .63, .655, .69, .72], 7),
    (-0.10, [.58, .60, .62, .65, .68, .71], 7),
    (-0.15, [.555, .59, .61, .635, .665, .70, .73], 7),
    (-0.20, [.57, .60, .62, .645, .675, .71, .745], 7),
    (-0.25, [.585, .605, .63, .655, .69, .72, .77, .78], 7),
    (-0.30, [.56, .59, .615, .64, .665, .70, .735], 7),
    (-0.35, [.57, .60, .625, .65, .68, .71, .74], 7),
    (-0.40, [.55, .585, .61, .635, .66, .69, .72], 7),
    (-0.45, [.565, .595, .62, .645, .67, .70, .73, .76], 8),
    (-0.50, [.54, .58, .605, .63, .655, .68, .71, .74], 8),
    (-0.55, [.53, .56, .59, .615, .64, .665, .69, .715, .745], 8),
    (-0.60, [.50, .51, .52, .53, .545, .58, .60, .625, .65, .675, .70, .725, .75], 8),
    (-0.65, [.55, .585, .61, .635, .66, .685, .71, .735, .76], 8),
    (-0.70, [.57, .595, .62, .645, .67, .695, .72, .745, .77], 8),
    (-0.75, [.53, .56, .585, .61, .635, .66, .685, .71, .735, .76, .78], 8),
    (-0.80, [.49, .57, .60, .625, .65, .675, .70, .725, .75, .775], 8),
    (-0.85, [.55, .585, .61, .64, .665, .69, .715, .74, .765, .79], 8),
    (-0.90, [.565, .595, .62, .645, .67, .695, .72, .745, .77], 8),
    (-0.95, [.58, .605, .63, .655, .68, .705, .73, .755, .78], 8),
    (-1.00, [.59, .615, .64, .665, .69, .715, .74, .765, .79], 8),
    (-1.05, [.575, .60, .625, .65, .675, .70, .725, .75, .775, .80], 8),
    (-1.10, [.56, .585, .61, .635, .66, .685, .71, .735, .76, .785, .81], 8),
    (-1.15, [.60, .625, .65, .675, .70, .725, .75, .775, .80, .82], 8),
    (-1.20, [.55, .59, .615, .64, .665, .69, .715, .74, .765, .79, .81], 8),
    (-1.25, [.57, .605, .63, .655, .68, .705, .73, .755, .78, .80], 8),
    (-1.30, [.33, .335], 5),
    (-1.30, [.60, .625, .65, .675, .70, .725, .75, .775, .80, .815], 8),
    (-1.35, [.435, .455, .474, .49, .508, .52], 5),
    (-1.35, [.585, .615, .64, .665, .69, .715, .74, .765, .79], 7),
    (-1.40, [.60, .63, .655, .68, .705, .73, .755, .78, .805], 8),
    (-1.45, [.61, .64, .665, .69, .715, .74, .765, .79, .81], 8),
    (-1.50, [.55, .625, .65, .675, .70, .725, .75, .775, .80], 8),
    (-1.55, [.60, .635, .66, .685, .71, .735, .76, .785, .81], 8),
    (-1.60, [.57, .645, .67, .695, .72, .745, .77, .795], 8),
    (-1.65, [.63, .655, .68, .705, .73, .755, .78], 8),
    (-1.70, [.59, .665, .69, .715, .74, .765], 7),
    (-1.76, [.39, .60, .675, .70, .725, .75], 7),
    (-1.80, [.545, .565, .585, .60, .71, .735], 6),
    (-1.86, [.36, .45, .495, .705], 6),
    (-1.90, [.72], 5),
]
D_HIGHLIGHT = {
    "Polyangium": [(.292, .08, 9), (.40, .89, 5), (.646, 1.63, 7), (.52, -.55, 7), (.647, .52, 6), (.58, .33, 5),
                   (.64, 1.0, 6), (.69, 1.05, 5), (.66, .77, 5), (.50, .67, 4), (.47, .56, 4), (.505, .10, 5),
                   (.61, -.40, 5), (.655, -.50, 5), (.70, -.90, 5), (.72, -1.55, 5), (.75, -1.75, 5),
                   (.60, -1.14, 5), (.59, -1.55, 4), (.33, -1.31, 6), (.76, -.02, 4)],
    "Anaeromyxobacter": [(.342, 1.47, 7), (.368, -1.25, 5), (.58, .25, 5), (.59, -.75, 8), (.67, -1.05, 7),
                         (.57, -.45, 5), (.515, .16, 5), (.60, 1.0, 5), (.64, .05, 5)],
    "Vitiosangium": [(.431, 1.25, 6), (.627, 1.66, 8), (.627, 1.20, 9), (.59, .73, 7), (.777, -.85, 5),
                     (.38, -1.25, 3), (.465, .57, 6), (.54, .38, 4), (.69, .60, 4)],
    "Archangium": [(.53, .30, 3), (.63, .20, 3), (.70, -.45, 3)],
    "Sorangium": [(.339, 1.27, 4), (.355, 1.64, 3), (.365, .08, 3), (.53, .01, 5), (.55, -.30, 4),
                  (.67, -.50, 4), (.60, -1.0, 5), (.77, -1.85, 3)],
}
SCATTER_COLORS = ["#3D4C9C", "#F21A1A", "#11884A", "#5C1F80", "#12807E", "#B0112A"]

PI_TICKS = [0.0, 0.2, 0.4, 0.6, 0.8, 1.0]
PI_TICKTEXT = ["0.0", "0.2", "0.4", "0.6", "0.8", "1.0"]
ZI_TICKS = [-3, -2, -1, 0, 1, 2, 3]
ZI_TICKTEXT = ["-3", "-2", "-1", "0", "1", "2", "3"]
PI_THRESHOLD = 0.62
ZI_THRESHOLD = 2.5

# ======================================================================
fig = go.Figure()


def parse_edges(spec):
    out = []
    for line in spec:
        parts = line.split()
        src = parts[0]
        for tok in parts[1:]:
            tgt, s = tok.split(":")
            out.append((src, tgt, int(s)))
    return out


def node_xy(nid, periph, core):
    tab = periph if nid[0] == "p" else core
    x, y, _ = tab[int(nid[1:])]
    return x, y


def add_network(periph, core, edge_spec, xa, ya, s_other, s_col, bend=0.18):
    edges = parse_edges(edge_spec)
    groups = {k: ([], []) for k in SIM_KEYS}
    nseg = 16
    for a, b, s in edges:
        x0, y0 = node_xy(a, periph, core)
        x1, y1 = node_xy(b, periph, core)
        cx = (x0 + x1) / 2 - bend * (y1 - y0)
        cy = (y0 + y1) / 2 + bend * (x1 - x0)
        gx, gy = groups[s]
        for i in range(nseg + 1):
            t = i / nseg
            u = 1 - t
            gx.append(u * u * x0 + 2 * u * t * cx + t * t * x1)
            gy.append(u * u * y0 + 2 * u * t * cy + t * t * y1)
        gx.append(None)
        gy.append(None)
    for k in [7, -7, 8, -8, 9, -9, 10, -10]:
        i = SIM_KEYS.index(k)
        gx, gy = groups[k]
        fig.add_trace(go.Scatter(x=gx, y=gy, mode="lines", xaxis=xa, yaxis=ya,
                                 line=dict(color=SIM_COLORS[i], width=SIM_WIDTHS[i]),
                                 hoverinfo="skip", showlegend=False))
    nodes = periph + core
    oth = [n for n in nodes if n[2] < 0]
    col = [n for n in nodes if n[2] >= 0]
    fig.add_trace(go.Scatter(x=[n[0] for n in oth], y=[n[1] for n in oth], mode="markers",
                             xaxis=xa, yaxis=ya, hoverinfo="skip", showlegend=False,
                             marker=dict(color=NODE_OTHER, size=s_other, opacity=1, line=dict(width=0))))
    fig.add_trace(go.Scatter(x=[n[0] for n in col], y=[n[1] for n in col], mode="markers",
                             xaxis=xa, yaxis=ya, hoverinfo="skip", showlegend=False,
                             marker=dict(color=[PAL[n[2]] for n in col], size=s_col, opacity=1,
                                         line=dict(width=0))))


add_network(A_PERIPH, A_CORE, A_EDGES, "x", "y", 13.5, 14.5)
add_network(B_PERIPH, B_CORE, B_EDGES, "x2", "y2", 12.5, 13.5)

SIZE_SCALE = 1.12


def add_zipi(rows, highlight, genera, xa, ya):
    xs, ys, ss = [], [], []
    for zi, pis, s in rows:
        for p in pis:
            xs.append(p)
            ys.append(zi)
            ss.append(s * SIZE_SCALE)
    fig.add_trace(go.Scatter(x=xs, y=ys, mode="markers", xaxis=xa, yaxis=ya, showlegend=False,
                             hoverinfo="skip",
                             marker=dict(color=SCATTER_COLORS[5], size=ss, opacity=1, line=dict(width=0))))
    for gi, g in enumerate(genera[:-1]):
        pts = highlight[g]
        fig.add_trace(go.Scatter(x=[p[0] for p in pts], y=[p[1] for p in pts], mode="markers",
                                 xaxis=xa, yaxis=ya, showlegend=False, hoverinfo="skip",
                                 marker=dict(color=SCATTER_COLORS[gi], size=[p[2] * SIZE_SCALE for p in pts],
                                             opacity=1, line=dict(width=0))))


add_zipi(C_OTHERS, C_HIGHLIGHT, C_GENERA, "x3", "y3")
add_zipi(D_OTHERS, D_HIGHLIGHT, D_GENERA, "x4", "y4")

layout = dict(
    width=W, height=H, margin=dict(l=0, r=0, t=0, b=0),
    paper_bgcolor="white", plot_bgcolor="rgba(0,0,0,0)", showlegend=False,
)
hidden = dict(visible=False, showgrid=False, zeroline=False, fixedrange=True)
layout["xaxis"] = dict(domain=[0, 0.5], range=[0, 951], anchor="y", **hidden)
layout["yaxis"] = dict(domain=[py(760), 1], range=[760, 0], anchor="x", **hidden)
layout["xaxis2"] = dict(domain=[0.5, 1], range=[951, 1902], anchor="y2", **hidden)
layout["yaxis2"] = dict(domain=[py(760), 1], range=[760, 0], anchor="x2", **hidden)

tickf = dict(family="Liberation Sans", size=12, color="#333333")
boxax = dict(showline=True, mirror=True, linecolor="black", linewidth=2, ticks="outside", ticklen=4,
             tickwidth=1, tickcolor="black", showgrid=False, zeroline=False, tickfont=tickf, fixedrange=True)
layout["xaxis3"] = dict(domain=[px(91), px(688)], range=[-0.0202, 1.154], anchor="y3",
                        tickvals=PI_TICKS, ticktext=PI_TICKTEXT, **boxax)
layout["yaxis3"] = dict(domain=[py(1336.4), py(846.1)], range=[-3.048, 3.0], anchor="x3",
                        tickvals=ZI_TICKS, ticktext=ZI_TICKTEXT, **boxax)
layout["xaxis4"] = dict(domain=[px(1078), px(1685)], range=[-0.0218, 1.148], anchor="y4",
                        tickvals=PI_TICKS, ticktext=PI_TICKTEXT, **boxax)
layout["yaxis4"] = dict(domain=[py(1333.3), py(843.4)], range=[-2.905, 3.0], anchor="x4",
                        tickvals=ZI_TICKS, ticktext=ZI_TICKTEXT, **boxax)

shapes = []
for k in ("3", "4"):
    shapes.append(dict(type="line", xref=f"x{k} domain", x0=0, x1=1, yref=f"y{k}", y0=ZI_THRESHOLD,
                       y1=ZI_THRESHOLD, line=dict(color="black", width=1.6, dash="dash")))
    shapes.append(dict(type="line", xref=f"x{k}", x0=PI_THRESHOLD, x1=PI_THRESHOLD, yref=f"y{k} domain",
                       y0=0, y1=1, line=dict(color="black", width=1.6, dash="dash")))
layout["shapes"] = shapes


# ---------------- legends (category axes) ----------------
def legend_block(k, labels, mark_x, y_first, step, text_dx, text_pos, textfont, marker):
    n = len(labels)
    top = y_first - step / 2
    bot = y_first + (n - 1) * step + step / 2
    layout[f"xaxis{k}"] = dict(domain=[px(mark_x - 20), px(mark_x + 150)], range=[-20, 150],
                               anchor=f"y{k}", **hidden)
    layout[f"yaxis{k}"] = dict(domain=[py(bot), py(top)], type="category", categoryorder="array",
                               categoryarray=labels, range=[n - 0.5, -0.5], anchor=f"x{k}", **hidden)
    fig.add_trace(go.Scatter(x=[0] * n, y=labels, mode="markers", marker=marker, cliponaxis=False,
                             xaxis=f"x{k}", yaxis=f"y{k}", hoverinfo="skip", showlegend=False))
    fig.add_trace(go.Scatter(x=[text_dx] * n, y=labels, text=labels, mode="text", textposition=text_pos,
                             textfont=textfont, cliponaxis=False, xaxis=f"x{k}", yaxis=f"y{k}",
                             hoverinfo="skip", showlegend=False))


serif_it = dict(family="Liberation Serif", size=17, color="#1a1a1a", style="italic")
serif = dict(family="Liberation Serif", size=17, color="#1a1a1a")
sans = dict(family="Liberation Sans", size=15.5, color="#1a1a1a")

legend_block(5, A_GENERA, 715, 43.5, 20.26, 17, "middle right", serif_it,
             dict(symbol="square", size=7, color=PAL, opacity=1, line=dict(width=0)))
legend_block(6, SIM_LABELS, 718.5, 585.5, 20.0, 44.5, "middle left", serif,
             dict(symbol="line-ew", size=11, opacity=1, line=dict(color=SIM_COLORS, width=2.5)))
legend_block(7, B_GENERA, 1733.3, 35.2, 20.21, 17, "middle right", serif_it,
             dict(symbol="square", size=7, color=PAL, opacity=1, line=dict(width=0)))
legend_block(8, SIM_LABELS, 1736.5, 576.7, 20.09, 46.2, "middle left", serif,
             dict(symbol="line-ew", size=11, opacity=1, line=dict(color=SIM_COLORS, width=2.5)))
legend_block(9, C_GENERA, 715.6, 884.5, 20.22, 15, "middle right", sans,
             dict(symbol="circle", size=12, color=SCATTER_COLORS, opacity=1, line=dict(width=0)))
legend_block(10, D_GENERA, 1714, 881.7, 20.24, 14.5, "middle right", sans,
             dict(symbol="circle", size=12, color=SCATTER_COLORS, opacity=1, line=dict(width=0)))

# ---------------- annotations ----------------
ann = []


def paper_text(text, x, y, font, xanchor="left", yanchor="middle", angle=0):
    ann.append(dict(text=text, x=px(x), y=py(y), xref="paper", yref="paper", showarrow=False,
                    xanchor=xanchor, yanchor=yanchor, font=font, textangle=angle))


letter = dict(family="Liberation Sans", size=28, color="black", weight="bold")
paper_text("A", 6, 20, letter)
paper_text("B", 944, 20, letter)
paper_text("C", 6, 808, letter)
paper_text("D", 945, 808, letter)

paper_text("Similarity", 700.4, 560.5, serif)
paper_text("Similarity", 1718.3, 550.7, serif)
paper_text("genus", 707.7, 860, dict(family="Liberation Sans", size=16, color="#1a1a1a"))
paper_text("genus", 1704.8, 857, dict(family="Liberation Sans", size=16, color="#1a1a1a"))

big = dict(family="Liberation Serif", size=37, color="black", style="italic", weight="bold")
ann.append(dict(text="Anaeromyxobacter", x=607, y=476, xref="x", yref="y", showarrow=False, font=big))
ann.append(dict(text="Archangium", x=1111, y=171, xref="x2", yref="y2", showarrow=False, font=big))
ann.append(dict(text="Polyangium", x=1120, y=470, xref="x2", yref="y2", showarrow=False, font=big))

quad = dict(family="Liberation Sans", size=16, color="#1a1a1a")
for k in ("3", "4"):
    for txt, x, y, xa in [("Module hubs", 0.017, 0.969, "left"), ("Network hubs", 0.985, 0.969, "right"),
                          ("Peripherals", 0.017, 0.031, "left"), ("Connectors", 0.985, 0.031, "right")]:
        ann.append(dict(text=txt, x=x, y=y, xref=f"x{k} domain", yref=f"y{k} domain", showarrow=False,
                        xanchor=xa, yanchor="middle", font=quad))

axt = dict(family="Liberation Sans", size=11, color="#333333")
ayt = dict(family="DejaVu Sans", size=10, color="#333333")
paper_text("Among-module connectivity(Pi)", 389.5, 1377, axt, xanchor="center")
paper_text("Among-module connectivity(Pi)", 1382, 1374.6, axt, xanchor="center")
paper_text("Within-module connectivity(Zi)", 49.7, 1091, ayt, xanchor="center", angle=-90)
paper_text("Within-module connectivity(Zi)", 1037, 1088, ayt, xanchor="center", angle=-90)

layout["annotations"] = ann
fig.update_layout(**layout)

fig.write_html("out.html", config={"displayModeBar": False, "staticPlot": True},
               post_script="document.body.style.margin='0';document.body.style.overflow='hidden';")
